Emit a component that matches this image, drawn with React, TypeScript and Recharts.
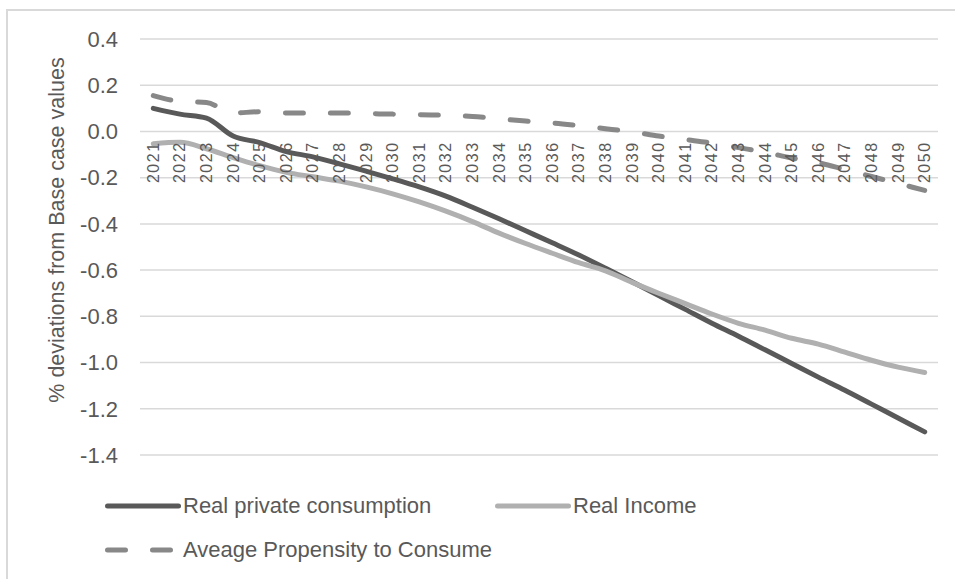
import React from 'react'
import { LineChart, Line, XAxis, YAxis, CartesianGrid } from 'recharts'

// values
const years = [
  '2021', '2022', '2023', '2024', '2025', '2026', '2027', '2028', '2029', '2030',
  '2031', '2032', '2033', '2034', '2035', '2036', '2037', '2038', '2039', '2040',
  '2041', '2042', '2043', '2044', '2045', '2046', '2047', '2048', '2049', '2050',
]
const realConsumption = [
  0.10, 0.075, 0.058, -0.02, -0.048, -0.087, -0.11, -0.14, -0.172, -0.205,
  -0.24, -0.28, -0.328, -0.378, -0.43, -0.482, -0.535, -0.592, -0.65, -0.71,
  -0.77, -0.83, -0.886, -0.945, -1.004, -1.063, -1.12, -1.18, -1.24, -1.30,
]
const realIncome = [
  -0.053, -0.047, -0.075, -0.113, -0.148, -0.177, -0.196, -0.215, -0.24, -0.27,
  -0.305, -0.345, -0.39, -0.44, -0.485, -0.527, -0.568, -0.603, -0.653, -0.70,
  -0.745, -0.79, -0.83, -0.86, -0.895, -0.92, -0.955, -0.99, -1.02, -1.043,
]
const propensity = [
  0.155, 0.13, 0.125, 0.08, 0.085, 0.08, 0.08, 0.08, 0.077, 0.075,
  0.072, 0.07, 0.065, 0.055, 0.045, 0.037, 0.025, 0.012, -0.002, -0.02,
  -0.035, -0.05, -0.07, -0.09, -0.115, -0.135, -0.165, -0.195, -0.225, -0.255,
]
const yTicks = [-1.4, -1.2, -1.0, -0.8, -0.6, -0.4, -0.2, 0, 0.2, 0.4]

const data = years.map((year, i) => ({
  year,
  consumption: realConsumption[i],
  income: realIncome[i],
  apc: propensity[i],
}))

const W = 955
const H = 579
const X_AXIS_H = 1
const MARGIN = { top: 39, right: 17, bottom: 123, left: 0 }
const Y_MIN = -1.4
const Y_MAX = 0.4
const PLOT_H = H - MARGIN.top - MARGIN.bottom - X_AXIS_H
// year labels hang just under the zero line, as in Excel
const ZERO_Y = MARGIN.top + (PLOT_H * (Y_MAX - 0)) / (Y_MAX - Y_MIN)

const FONT = '"Liberation Sans", Arial, sans-serif'
const TEXT = '#595959'

const series = [
  { key: 'consumption', name: 'Real private consumption', color: '#595959', dash: undefined },
  { key: 'income', name: 'Real Income', color: '#b0b0b0', dash: undefined },
  { key: 'apc', name: 'Aveage Propensity to Consume', color: '#888888', dash: '18 27' },
]

function YearTick(props: any) {
  const { x, payload } = props
  return (
    <text
      transform={`translate(${x},${ZERO_Y + 10}) rotate(-90)`}
      textAnchor="end"
      dominantBaseline="central"
      fontSize={16}
      letterSpacing={1.5}
      fill={TEXT}
      fontFamily={FONT}
    >
      {payload.value}
    </text>
  )
}

function YTitle(props: any) {
  const { viewBox } = props
  const cx = viewBox.x + 57
  const cy = viewBox.y + viewBox.height / 2 - 17
  return (
    <text
      transform={`translate(${cx},${cy}) rotate(-90)`}
      textAnchor="middle"
      dominantBaseline="central"
      fontSize={21.5}
      fill={TEXT}
      fontFamily={FONT}
    >
      % deviations from Base case values
    </text>
  )
}

function LegendItem({ s, width }: { s: (typeof series)[number]; width?: number }) {
  return (
    <div style={{ display: 'flex', alignItems: 'center', width }}>
      <svg width={78} height={10} style={{ display: 'block' }}>
        <line
          x1={2.5}
          y1={5}
          x2={73.5}
          y2={5}
          stroke={s.color}
          strokeWidth={5}
          strokeLinecap="round"
          strokeDasharray={s.dash}
        />
      </svg>
      <span style={{ fontSize: 22, color: TEXT, fontFamily: FONT, whiteSpace: 'nowrap' }}>{s.name}</span>
    </div>
  )
}

export default function App() {
  return (
    <div style={{ position: 'absolute', left: 0, top: 0, width: W, height: H, overflow: 'hidden', background: '#fff' }}>
      <div
        style={{
          position: 'absolute', left: 6, top: 9, right: -10, bottom: -10,
          border: '2px solid #d9d9d9',
        }}
      />
      <div style={{ position: 'absolute', left: 0, top: 0 }}>
        <LineChart width={W} height={H} data={data} margin={MARGIN}>
          <CartesianGrid vertical={false} stroke="#d9d9d9" strokeWidth={1.5} />
          <XAxis
            dataKey="year"
            scale="band"
            height={X_AXIS_H}
            interval={0}
            axisLine={false}
            tickLine={false}
            tick={<YearTick />}
          />
          <YAxis
            width={140}
            domain={[Y_MIN, Y_MAX]}
            ticks={yTicks}
            interval={0}
            axisLine={false}
            tickLine={false}
            tickSize={0}
            tickMargin={22}
            tickFormatter={(v: number) => v.toFixed(1)}
            tick={{ fontSize: 22, fill: TEXT, fontFamily: FONT }}
            label={<YTitle />}
          />
          {series.map((s) => (
            <Line
              key={s.key}
              type="monotone"
              dataKey={s.key}
              name={s.name}
              stroke={s.color}
              strokeWidth={5}
              strokeLinecap="round"
              strokeDasharray={s.dash}
              dot={false}
              activeDot={false}
              isAnimationActive={false}
            />
          ))}
        </LineChart>
      </div>
      <div style={{ position: 'absolute', left: 105, top: 495 }}>
        <div style={{ display: 'flex', height: 22 }}>
          <LegendItem s={series[0]} width={390} />
          <LegendItem s={series[1]} />
        </div>
        <div style={{ display: 'flex', height: 22, marginTop: 22 }}>
          <LegendItem s={series[2]} />
        </div>
      </div>
    </div>
  )
}
